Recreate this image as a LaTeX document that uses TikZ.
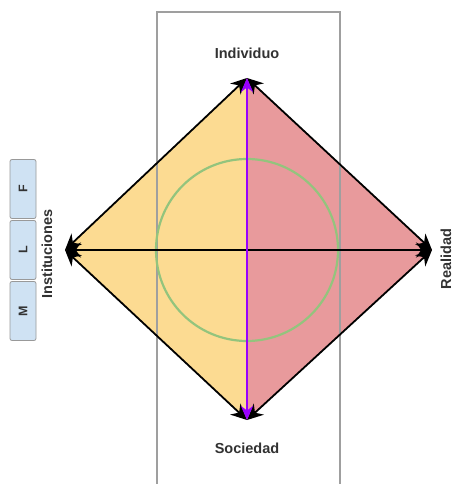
\documentclass[tikz,border=0pt]{standalone}
\usepackage{fontspec}
\setmainfont{Liberation Sans}
\usetikzlibrary{arrows.meta}
\definecolor{yel}{RGB}{252,219,146}
\definecolor{pnk}{RGB}{232,154,156}
\definecolor{grn}{RGB}{147,196,125}
\definecolor{prp}{RGB}{153,0,255}
\definecolor{boxblue}{RGB}{207,226,243}
\definecolor{txt}{RGB}{50,50,50}
\tikzset{
  lab/.style={font=\bfseries\fontsize{14.5}{16}\selectfont, text=txt, inner sep=0pt},
  letterbox/.style={draw=gray!80, line width=0.8pt, fill=boxblue, rounded corners=2pt,
     minimum width=26pt, minimum height=59pt, inner sep=0pt,
     font=\bfseries\fontsize{12.5}{14}\selectfont, text=txt},
  edge/.style={line width=1.8pt, black, {Stealth[length=16pt,width=15pt]}-{Stealth[length=16pt,width=15pt]}},
  axisv/.style={line width=2.4pt, prp, {Stealth[length=14pt,width=12pt]}-{Stealth[length=14pt,width=12pt]}},
}
\begin{document}
\begin{tikzpicture}[x=1pt,y=1pt]
\useasboundingbox (0,0) rectangle (455,-484);
\fill[white] (0,0) rectangle (455,-484);
\coordinate (T) at (247,-78);
\coordinate (B) at (247,-420);
\coordinate (L) at (65,-250);
\coordinate (R) at (432,-250);
\coordinate (C) at (247,-250);
% fills
\fill[yel] (T) -- (L) -- (B) -- cycle;
\fill[pnk] (T) -- (R) -- (B) -- cycle;
% frame
\draw[gray!75, line width=1.2pt] (157,-490) -- (157,-12) -- (340,-12) -- (340,-490);
% circle
\draw[grn, line width=2.2pt] (C) circle (91);
% edges
\draw[edge] (T) -- (L);
\draw[edge] (L) -- (B);
\draw[edge] (B) -- (R);
\draw[edge] (R) -- (T);
\draw[edge] (L) -- (R);
\draw[axisv] (T) -- (B);
% labels
\node[lab] (ind) at (247,-53) {Individuo};
\node[lab] (soc) at (247,-448) {Sociedad};
\node[lab, rotate=90] (inst) at (47,-254) {Instituciones};
\node[lab, rotate=90] (real) at (446,-259) {Realidad};
% boxes
\node[letterbox] (bf) at (23,-189) {\rotatebox{90}{F}};
\node[letterbox] (bl) at (23,-250) {\rotatebox{90}{L}};
\node[letterbox] (bm) at (23,-311) {\rotatebox{90}{M}};
\end{tikzpicture}
\end{document}
